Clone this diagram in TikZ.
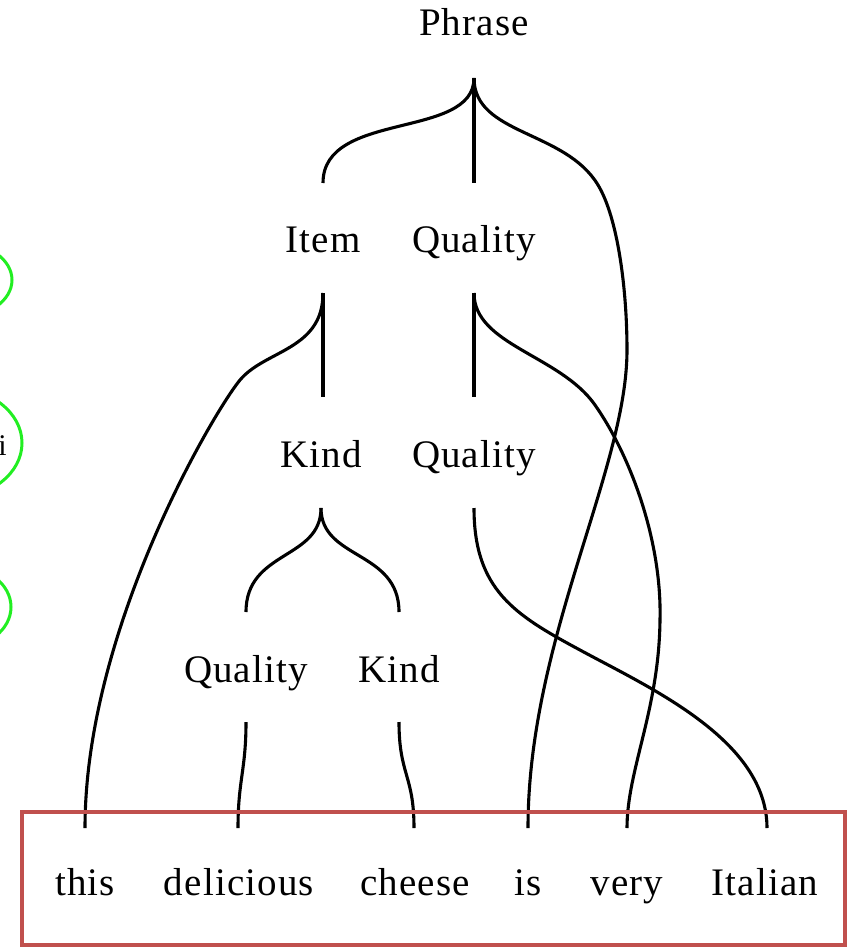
\documentclass[tikz,border=0pt]{standalone}
\usepackage{fontspec}
\setmainfont[LetterSpace=3]{Liberation Serif}
\definecolor{boxred}{HTML}{C0504D}
\definecolor{ringgreen}{HTML}{22EE22}
\begin{document}
\begin{tikzpicture}[x=1pt,y=-1pt,
  lbl/.style={anchor=base, inner sep=0pt, font=\fontsize{39}{42}\selectfont},
  link/.style={line width=3.1pt, draw=black},
  ring/.style={line width=3pt, draw=ringgreen},
  sentbox/.style={line width=3.6pt, draw=boxred}]
\useasboundingbox (0,0) rectangle (849,948);

% partly visible rings at the left edge
\begin{scope}
  \clip (0,0) rectangle (849,948);
  \draw[ring] (-43,280) ellipse [x radius=55pt, y radius=38pt];
  \draw[ring] (-48,443) ellipse [x radius=70pt, y radius=55pt];
  \draw[ring] (-44,607) ellipse [x radius=55pt, y radius=42pt];
  \node[anchor=base east, inner sep=0pt, font=\fontsize{30}{32}\selectfont] (ring-text) at (7,455) {i};
\end{scope}

% category labels
\node[lbl] (phrase) at (474,35) {Phrase};
\node[lbl] (item) at (323,252) {Item};
\node[lbl] (qual-a) at (474,252) {Quality};
\node[lbl] (kind-a) at (321,467) {Kind};
\node[lbl] (qual-b) at (474,467) {Quality};
\node[lbl] (qual-c) at (246,682) {Quality};
\node[lbl] (kind-b) at (399,682) {Kind};

% words of the sentence
\node[lbl] (w-this) at (85,895) {this};
\node[lbl] (w-delicious) at (239,895) {delicious};
\node[lbl] (w-cheese) at (415,895) {cheese};
\node[lbl] (w-is) at (528,895) {is};
\node[lbl] (w-very) at (627,895) {very};
\node[lbl] (w-italian) at (765,895) {Italian};

% attachment points above and below the labels
\coordinate (phrase-s) at (474,78);
\coordinate (item-n) at (323,183);
\coordinate (item-s) at (323,293);
\coordinate (qual-a-n) at (474,183);
\coordinate (qual-a-s) at (474,293);
\coordinate (kind-a-n) at (323,397);
\coordinate (kind-a-s) at (321,508);
\coordinate (qual-b-n) at (474,397);
\coordinate (qual-b-s) at (474,508);
\coordinate (qual-c-n) at (246,612);
\coordinate (qual-c-s) at (246,722);
\coordinate (kind-b-n) at (399,612);
\coordinate (kind-b-s) at (399,722);
\coordinate (w-this-n) at (85,828);
\coordinate (w-delicious-n) at (238,828);
\coordinate (w-cheese-n) at (414,828);
\coordinate (w-is-n) at (528,828);
\coordinate (w-very-n) at (627,828);
\coordinate (w-italian-n) at (767,828);

% Phrase
\draw[link] (phrase-s) .. controls +(0,62) and +(0,-73) .. (item-n);
\draw[link] (phrase-s) -- (qual-a-n);
\draw[link] (phrase-s) .. controls +(0,57) and (565,130) .. (598,185)
  .. controls (618,218) and (627,290) .. (627,350)
  .. controls (627,470) and +(0,-188) .. (w-is-n);

% Item
\draw[link] (item-s) -- (kind-a-n);
\draw[link] (item-s) .. controls +(0,57) and (265,350) .. (240,380)
  .. controls (215,410) and +(0,-200) .. (w-this-n);

% Quality (upper)
\draw[link] (qual-a-s) -- (qual-b-n);
\draw[link] (qual-a-s) .. controls +(0,52) and (560,355) .. (595,405)
  .. controls (630,455) and (662,540) .. (660,620)
  .. controls (659,710) and +(0,-58) .. (w-very-n);

% Kind (upper)
\draw[link] (kind-a-s) .. controls +(0,52) and +(0,-62) .. (qual-c-n);
\draw[link] (kind-a-s) .. controls +(0,52) and +(0,-62) .. (kind-b-n);

% Quality (middle)
\draw[link] (qual-b-s) .. controls +(0,82) and (515,615) .. (580,650)
  .. controls (650,688) and +(0,-88) .. (w-italian-n);

% lower row
\draw[link] (qual-c-s) .. controls +(0,48) and +(0,-48) .. (w-delicious-n);
\draw[link] (kind-b-s) .. controls +(0,53) and +(0,-53) .. (w-cheese-n);

% frame round the sentence
\draw[sentbox] (22,812) rectangle (845,945);
\end{tikzpicture}
\end{document}
